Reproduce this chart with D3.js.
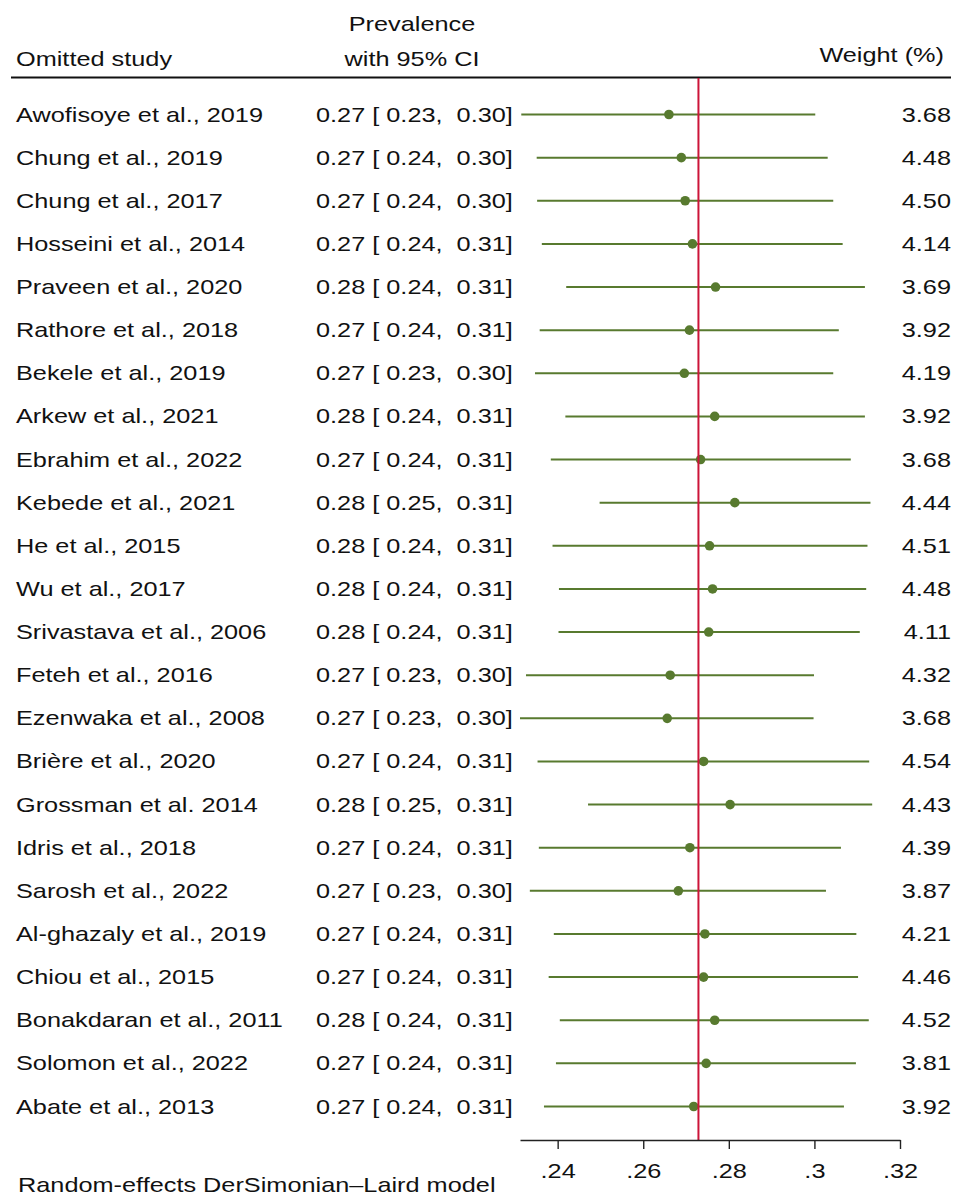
<!DOCTYPE html>
<html>
<head>
<meta charset="utf-8">
<script src="https://cdn.jsdelivr.net/npm/d3@7"></script>
<style>
  html, body { margin: 0; padding: 0; background: #fff; }
  svg { display: block; font-family: "Liberation Sans", Arial, sans-serif; }
  text { fill: #111; white-space: pre; }
</style>
</head>
<body>
<svg id="chart" width="957" height="1196"></svg>
<script>
// Leave-one-out sensitivity analysis (random-effects DerSimonian–Laird)
const studies = [
  "Awofisoye et al., 2019", "Chung et al., 2019", "Chung et al., 2017",
  "Hosseini et al., 2014", "Praveen et al., 2020", "Rathore et al., 2018",
  "Bekele et al., 2019", "Arkew et al., 2021", "Ebrahim et al., 2022",
  "Kebede et al., 2021", "He et al., 2015", "Wu et al., 2017",
  "Srivastava et al., 2006", "Feteh et al., 2016", "Ezenwaka et al., 2008",
  "Brière et al., 2020", "Grossman et al. 2014", "Idris et al., 2018",
  "Sarosh et al., 2022", "Al-ghazaly et al., 2019", "Chiou et al., 2015",
  "Bonakdaran et al., 2011", "Solomon et al., 2022", "Abate et al., 2013"
];
const estimate = [
  0.2660, 0.2689, 0.2698, 0.2715, 0.2769, 0.2708, 0.2696, 0.2767,
  0.2734, 0.2814, 0.2755, 0.2762, 0.2753, 0.2663, 0.2656, 0.2741,
  0.2803, 0.2709, 0.2682, 0.2744, 0.2741, 0.2767, 0.2747, 0.2718
];
const lower = [
  0.2315, 0.2351, 0.2352, 0.2363, 0.2420, 0.2358, 0.2347, 0.2418,
  0.2384, 0.2498, 0.2388, 0.2403, 0.2402, 0.2326, 0.2312, 0.2353,
  0.2471, 0.2356, 0.2335, 0.2391, 0.2379, 0.2405, 0.2396, 0.2368
];
const upper = [
  0.3002, 0.3031, 0.3044, 0.3066, 0.3118, 0.3057, 0.3044, 0.3118,
  0.3085, 0.3131, 0.3124, 0.3121, 0.3106, 0.2999, 0.2998, 0.3128,
  0.3135, 0.3062, 0.3027, 0.3098, 0.3102, 0.3127, 0.3097, 0.3069
];
const weights = [
  "3.68", "4.48", "4.50", "4.14", "3.69", "3.92", "4.19", "3.92",
  "3.68", "4.44", "4.51", "4.48", "4.11", "4.32", "3.68", "4.54",
  "4.43", "4.39", "3.87", "4.21", "4.46", "4.52", "3.81", "3.92"
];
const overall = 0.2729;
const xDomain = [0.2312, 0.32];
const tickValues = [0.24, 0.26, 0.28, 0.30, 0.32];
const tickLabels = [".24", ".26", ".28", ".3", ".32"];

const svg = d3.select("#chart");
const green = "#587a2f";
const red = "#cc1439";
const f2 = d3.format(".2f");
const FS = 20;          // font size
const STRETCH = 1.265;  // wide glyph proportions

const x = d3.scaleLinear().domain(xDomain).range([520, 900]);
const y = d3.scalePoint().domain(d3.range(studies.length)).range([114.5, 1106.5]);

// Text helper: places a horizontally widened label at (px, py)
function label(parent, px, py, anchor) {
  return parent.append("text")
    .attr("transform", `translate(${px},${py}) scale(${STRETCH},1)`)
    .attr("font-size", FS)
    .attr("text-anchor", anchor || "start");
}

// Header
label(svg, 16, 66).text("Omitted study");
label(svg, 412, 31, "middle").text("Prevalence");
label(svg, 412, 66, "middle").text("with 95% CI");
label(svg, 944, 62, "end").text("Weight (%)");
svg.append("line").attr("x1", 11).attr("x2", 951).attr("y1", 77.5).attr("y2", 77.5)
  .attr("stroke", "#111").attr("stroke-width", 2.2);

// Rows
const rows = svg.append("g").selectAll("g").data(studies).join("g")
  .attr("transform", (d, i) => `translate(0,${y(i)})`);

rows.each(function (d, i) {
  const g = d3.select(this);
  label(g, 16, 7).text(d);
  label(g, 316, 7).text(`${f2(estimate[i])} [ ${f2(lower[i])},  ${f2(upper[i])}]`);
  label(g, 951, 7, "end").text(weights[i]);
});

rows.append("line")
  .attr("x1", (d, i) => x(lower[i])).attr("x2", (d, i) => x(upper[i]))
  .attr("stroke", green).attr("stroke-width", 2);

// Overall estimate
svg.append("line").attr("x1", x(overall)).attr("x2", x(overall))
  .attr("y1", 78).attr("y2", 1140)
  .attr("stroke", red).attr("stroke-width", 2);

rows.append("circle").attr("cx", (d, i) => x(estimate[i])).attr("r", 4.8)
  .attr("fill", green);

// Axis
const axis = d3.axisBottom(x).tickValues(tickValues).tickSize(9).tickSizeOuter(0)
  .tickFormat((d, i) => tickLabels[i]);
const ag = svg.append("g").attr("transform", "translate(0,1140)").call(axis);
ag.select(".domain").attr("stroke", "#222").attr("stroke-width", 1.4);
ag.selectAll(".tick line").attr("stroke", "#222").attr("stroke-width", 1.4);
ag.selectAll(".tick text").attr("font-size", FS)
  .attr("font-family", "Liberation Sans, Arial, sans-serif")
  .attr("fill", "#111").attr("y", 0).attr("dy", 0)
  .attr("transform", `translate(0,38) scale(${STRETCH},1)`);

label(svg, 18, 1192).text("Random-effects DerSimonian–Laird model");
</script>
</body>
</html>
